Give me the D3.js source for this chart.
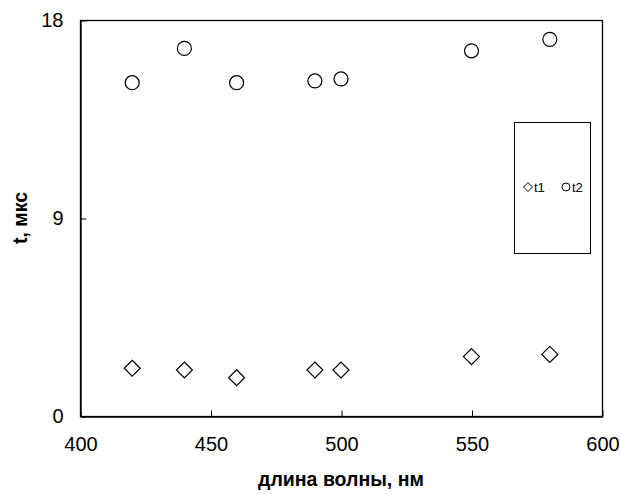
<!DOCTYPE html>
<html>
<head>
<meta charset="utf-8">
<script src="https://cdn.jsdelivr.net/npm/d3@7"></script>
<style>
  html, body { margin: 0; padding: 0; background: #fff; }
  svg { display: block; font-family: "Liberation Sans", Arial, sans-serif; }
</style>
</head>
<body>
<svg id="chart" width="621" height="494"></svg>
<script>
// Data
const wavelengths = [420, 440, 460, 490, 500, 550, 580];
const t1Values = [2.17, 2.09, 1.74, 2.09, 2.09, 2.70, 2.80];
const t2Values = [15.15, 16.71, 15.15, 15.23, 15.32, 16.60, 17.12];
const xTicks = [400, 450, 500, 550, 600];
const yTicks = [0, 9, 18];
const seriesNames = ["t1", "t2"];
const xTitle = "длина волны, нм";
const yTitle = "t, мкс";

const svg = d3.select("#chart");
const plot = { left: 80, top: 20, right: 602, bottom: 416 };

const x = d3.scaleLinear().domain([400, 600]).range([plot.left, plot.right]);
const y = d3.scaleLinear().domain([0, 18]).range([plot.bottom, plot.top]);

// Frame
svg.append("rect")
  .attr("x", plot.left + 0.5).attr("y", plot.top + 0.5)
  .attr("width", plot.right - plot.left).attr("height", plot.bottom - plot.top)
  .attr("fill", "none").attr("stroke", "#000").attr("stroke-width", 1.3);

// Axes (inward ticks)
const xAxis = d3.axisBottom(x).tickValues(xTicks).tickSizeInner(-6).tickSizeOuter(0).tickPadding(20);
const yAxis = d3.axisLeft(y).tickValues(yTicks).tickSizeInner(-6).tickSizeOuter(0).tickPadding(17);

const gx = svg.append("g").attr("transform", `translate(0.5,${plot.bottom + 0.5})`).call(xAxis);
const gy = svg.append("g").attr("transform", `translate(${plot.left + 0.5},0.5)`).call(yAxis);
[gx, gy].forEach(g => {
  g.select(".domain").attr("stroke", "#000").attr("stroke-width", 1.3);
  g.selectAll(".tick line").attr("stroke", "#000");
  g.selectAll(".tick text").attr("fill", "#000")
    .style("font-family", '"Liberation Sans", Arial, sans-serif').style("font-size", "20px");
});

// Axis titles
svg.append("text")
  .attr("x", 341).attr("y", 486)
  .attr("text-anchor", "middle")
  .style("font-size", "19.5px").style("font-weight", "bold")
  .text(xTitle);
svg.append("text")
  .attr("transform", `translate(27,218) rotate(-90)`)
  .attr("text-anchor", "middle")
  .style("font-size", "19.5px").style("font-weight", "bold")
  .text(yTitle);

// Markers
const diamond = (cx, cy, r) => `M${cx},${cy - r}L${cx + r},${cy}L${cx},${cy + r}L${cx - r},${cy}Z`;

svg.append("g").selectAll("path").data(wavelengths.map((w, i) => [w, t1Values[i]]))
  .join("path")
  .attr("d", d => diamond(x(d[0]), y(d[1]), 8))
  .attr("fill", "none").attr("stroke", "#000").attr("stroke-width", 1.2);

svg.append("g").selectAll("circle").data(wavelengths.map((w, i) => [w, t2Values[i]]))
  .join("circle")
  .attr("cx", d => x(d[0])).attr("cy", d => y(d[1])).attr("r", 7)
  .attr("fill", "none").attr("stroke", "#000").attr("stroke-width", 1.2);

// Legend
const lg = svg.append("g");
lg.append("rect").attr("x", 514.5).attr("y", 122.5).attr("width", 76).attr("height", 131)
  .attr("fill", "#fff").attr("stroke", "#000").attr("stroke-width", 1);
const ly = 187;
lg.append("path").attr("d", diamond(528, ly, 4.5)).attr("fill", "none").attr("stroke", "#000");
lg.append("text").attr("x", 534).attr("y", ly + 5).style("font-size", "13px").text(seriesNames[0]);
lg.append("circle").attr("cx", 566).attr("cy", ly).attr("r", 4).attr("fill", "none").attr("stroke", "#000");
lg.append("text").attr("x", 572).attr("y", ly + 5).style("font-size", "13px").text(seriesNames[1]);
</script>
</body>
</html>
